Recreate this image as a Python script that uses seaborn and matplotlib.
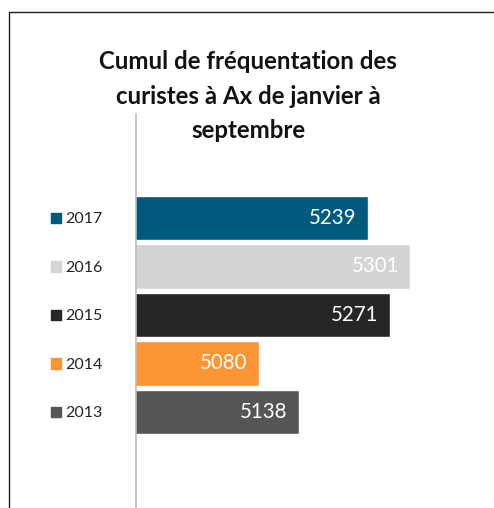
import matplotlib
matplotlib.use("Agg")
import matplotlib.pyplot as plt
from matplotlib.patches import Rectangle
import seaborn as sns
import pandas as pd

years = ["2017", "2016", "2015", "2014", "2013"]
values = [5239, 5301, 5271, 5080, 5138]
colors = ["#005A7E", "#D4D4D4", "#262626", "#FD9535", "#555555"]
title = "Cumul de fréquentation des\ncuristes à Ax de janvier à\nseptembre"

sns.set_theme(style="white")
plt.rcParams["font.family"] = ["Lato", "DejaVu Sans"]

W, H = 494, 508
fig = plt.figure(figsize=(W / 100, H / 100), dpi=100)
ax_left, ax_right = 136 / W, 477.7 / W
ax_top = 1 - 114 / H
ax = fig.add_axes([ax_left, 0, ax_right - ax_left, ax_top])

df = pd.DataFrame({"year": years, "value": values})
sns.barplot(data=df, x="value", y="year", hue="year", order=years, hue_order=years,
            palette=colors, legend=False, width=0.91, saturation=1, ax=ax,
            orient="h")

ax.set_xlim(4900, 5400)
ytop = (114 - 218) / 48.5
ybot = (508 - 218) / 48.5
ax.set_ylim(ybot, ytop)

for s in ["top", "right", "bottom"]:
    ax.spines[s].set_visible(False)
ax.spines["left"].set_color("#BDBDBD")
ax.spines["left"].set_linewidth(1.2)
ax.set_xticks([])
ax.set_xlabel("")
ax.set_ylabel("")
ax.tick_params(axis="y", which="major", length=0, pad=24, labelsize=11.5,
               labelcolor="#222222")
for lbl in ax.get_yticklabels():
    lbl.set_y(lbl.get_position()[1])
ax.set_yticks([ytop], minor=True)
ax.tick_params(axis="y", which="minor", length=3, color="#BDBDBD", width=1.2)

# legend-like squares
ax.scatter([-0.234] * len(years), range(len(years)), marker="s", s=55,
           c=colors, transform=ax.get_yaxis_transform(), clip_on=False, zorder=5)

# value labels
for i, v in enumerate(values):
    ax.annotate(str(v), xy=(v, i), xytext=(-8, 0), textcoords="offset points",
                ha="right", va="center", color="white", fontsize=14.8)

fig.text(248 / W, 1 - 96 / H, title, ha="center", va="center", fontsize=17.3,
         fontweight="bold", linespacing=1.6, color="#111111")

fig.patches.append(Rectangle((9 / W, -0.1), 2, 1 - 12 / H + 0.1,
                             transform=fig.transFigure, fill=False,
                             edgecolor="#222222", linewidth=1))

fig.savefig("out.png", dpi=100)
